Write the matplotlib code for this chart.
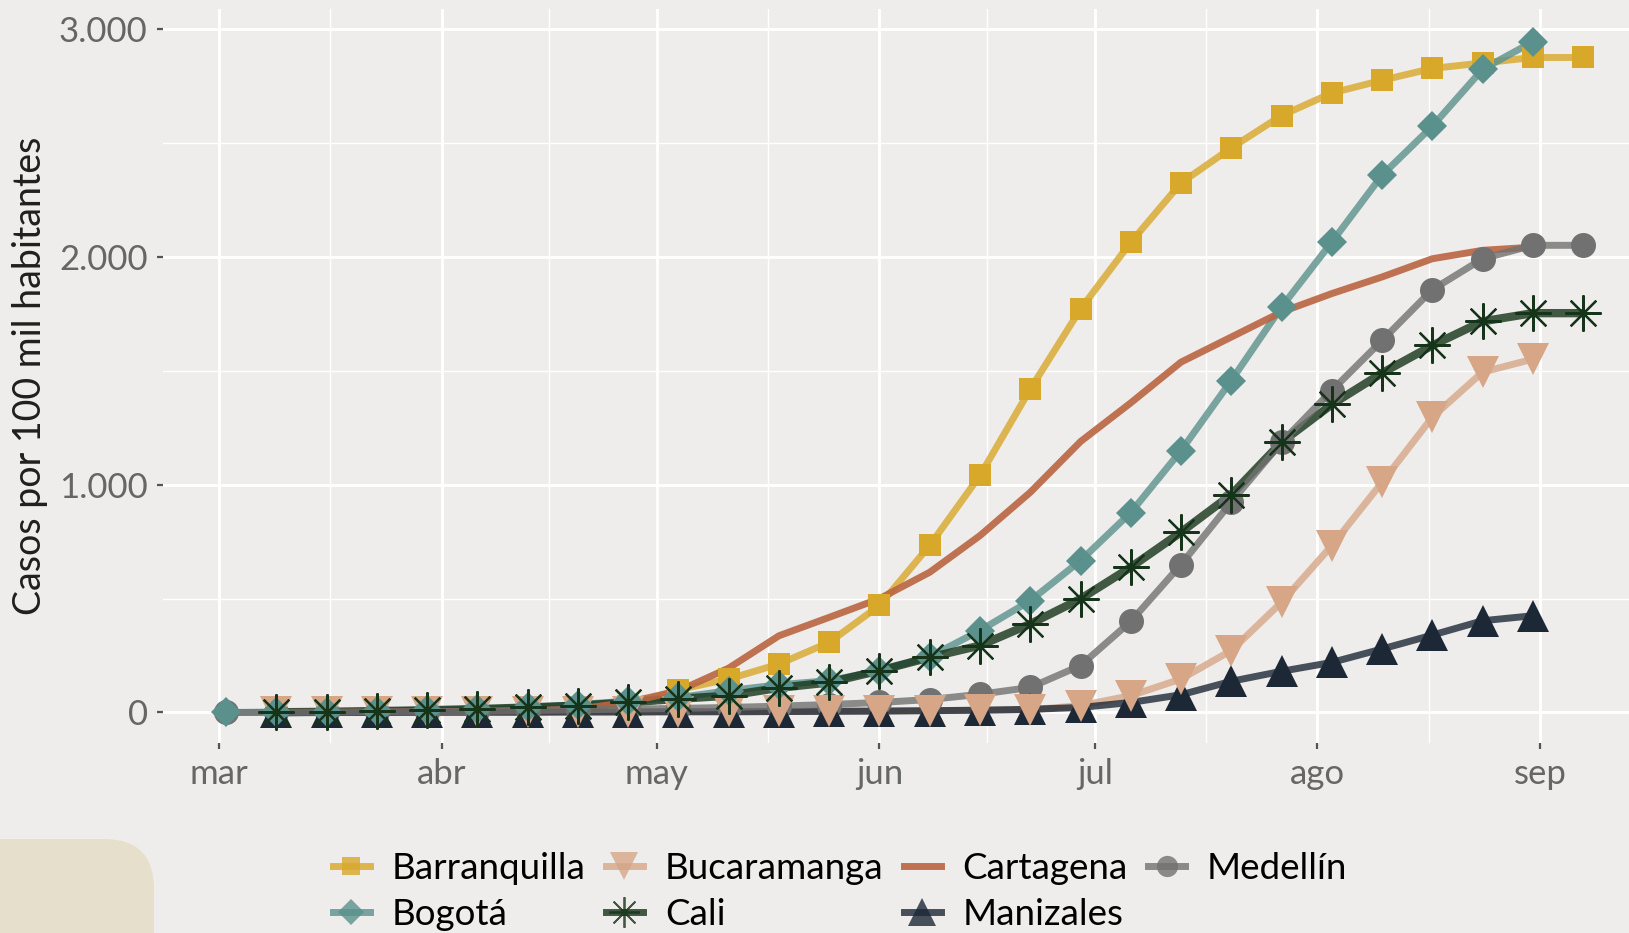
"""
Casos acumulados por 100 mil habitantes en ciudades de Colombia (mar-sep 2020).
"""

import matplotlib
matplotlib.use("Agg")

import matplotlib.dates as mdates
import matplotlib.pyplot as plt
from matplotlib.font_manager import FontProperties
from matplotlib.lines import Line2D
from matplotlib.patches import FancyBboxPatch
import pandas as pd

FONT = "Lato"
BG = "#EEEDEB"

# weekly dates (Mondays)
dates = pd.to_datetime([
    "2020-03-02", "2020-03-09", "2020-03-16", "2020-03-23", "2020-03-30",
    "2020-04-06", "2020-04-13", "2020-04-20", "2020-04-27", "2020-05-04",
    "2020-05-11", "2020-05-18", "2020-05-25", "2020-06-01", "2020-06-08",
    "2020-06-15", "2020-06-22", "2020-06-29", "2020-07-06", "2020-07-13",
    "2020-07-20", "2020-07-27", "2020-08-03", "2020-08-10", "2020-08-17",
    "2020-08-24", "2020-08-31", "2020-09-07",
])

# values per city; first index into `dates` given by *_start
barranquilla_start = 1
barranquilla = [0, 1, 3, 6, 10, 14, 20, 30, 100, 147, 213, 308, 470, 734, 1041,
                1420, 1772, 2065, 2326, 2480, 2622, 2721, 2777, 2829, 2853, 2877, 2877]
bogota_start = 0
bogota = [0, 2, 4, 7, 10, 15, 22, 35, 50, 66, 96, 122, 140, 184, 245, 360, 491,
          667, 878, 1150, 1458, 1781, 2066, 2360, 2575, 2825, 2946]
bucaramanga_start = 1
bucaramanga = [0, 0, 1, 1, 2, 2, 3, 3, 4, 5, 5, 6, 7, 8, 10, 12, 30, 74, 147, 272,
               484, 733, 1011, 1297, 1495, 1552]
cali_start = 1
cali = [1, 3, 6, 10, 15, 22, 30, 44, 60, 74, 108, 132, 184, 242, 294, 389, 499,
        638, 792, 957, 1187, 1353, 1491, 1612, 1718, 1754, 1754]
cartagena_start = 1
cartagena = [0, 1, 2, 3, 5, 8, 15, 45, 95, 195, 337, 418, 500, 616, 777, 967, 1190,
             1360, 1539, 1649, 1759, 1840, 1913, 1993, 2030, 2044]
manizales_start = 1
manizales = [0, 0, 0, 1, 1, 1, 2, 2, 3, 3, 4, 5, 6, 8, 10, 14, 22, 44, 78, 137,
             181, 220, 279, 340, 403, 425]
medellin_start = 0
medellin = [0, 0, 1, 2, 3, 5, 8, 12, 15, 18, 22, 28, 35, 44, 57, 80, 110, 206,
            400, 650, 924, 1187, 1414, 1634, 1857, 1993, 2052, 2052]

month_ticks = pd.to_datetime(["2020-03-01", "2020-04-01", "2020-05-01", "2020-06-01",
                              "2020-07-01", "2020-08-01", "2020-09-01"])
month_labels = ["mar", "abr", "may", "jun", "jul", "ago", "sep"]
y_ticks = [0, 1000, 2000, 3000]
y_labels = ["0", "1.000", "2.000", "3.000"]

ASTERISK = (8, 2, 0)

# name, values, start, color, marker, markersize, zorder, line width
series = [
    ("Barranquilla", barranquilla, barranquilla_start, "#D8A82A", "s", 16, 3.0, 5),
    ("Bogotá", bogota, bogota_start, "#5B918C", "D", 15, 3.4, 5),
    ("Bucaramanga", bucaramanga, bucaramanga_start, "#D6A687", "v", 23, 3.3, 5),
    ("Cali", cali, cali_start, "#163419", ASTERISK, 26, 3.5, 6),
    ("Cartagena", cartagena, cartagena_start, "#BA6540", None, 0, 2.9, 5),
    ("Manizales", manizales, manizales_start, "#1C2836", "^", 23, 3.2, 5),
    ("Medellín", medellin, medellin_start, "#717171", "o", 18, 3.1, 5),
]


def main() -> None:
    fig = plt.figure(figsize=(16.29, 9.33), dpi=100, facecolor=BG)
    ax = fig.add_axes([163 / 1629, 1 - 743 / 933, 1 - 163 / 1629, (743 - 9) / 933])
    ax.set_facecolor(BG)

    handles = []
    for name, vals, start, color, marker, ms, z, lw in series:
        x = dates[start:start + len(vals)]
        alpha = 0.9 if marker is None else 0.8
        ax.plot(x, vals, color=color, lw=lw, alpha=alpha, solid_capstyle="butt", zorder=2)
        if marker is not None:
            mew = 1.6 if marker == ASTERISK else 0
            ax.plot(x, vals, ls="none", marker=marker, ms=ms, color=color,
                    mec=color, mew=mew, zorder=z)
        handles.append(Line2D([], [], color=color, lw=5, alpha=alpha,
                              marker=marker, ms=ms * 0.85, mec=color,
                              mew=1.3 if marker == ASTERISK else 0,
                              markerfacecolor=color))

    # axes ranges
    x0 = mdates.date2num(pd.Timestamp("2020-03-01")) - 7.8
    x1 = mdates.date2num(pd.Timestamp("2020-03-01")) + 196.4
    ax.set_xlim(x0, x1)
    ax.set_ylim(-134, 3090)

    ax.set_xticks(month_ticks)
    ax.set_xticklabels(month_labels)
    mt = mdates.date2num(month_ticks)
    ax.set_xticks([(a + b) / 2 for a, b in zip(mt[:-1], mt[1:])], minor=True)
    ax.set_yticks(y_ticks)
    ax.set_yticklabels(y_labels)
    ax.set_yticks([500, 1500, 2500], minor=True)

    ax.grid(which="major", color="white", lw=2.0, zorder=0)
    ax.grid(which="minor", color="white", lw=1.0, zorder=0)
    ax.set_axisbelow(True)
    for s in ax.spines.values():
        s.set_visible(False)

    ax.tick_params(which="major", length=4, width=1.6, color="#555555",
                   labelcolor="#666666", labelsize=25, pad=7)
    ax.tick_params(which="minor", length=0)
    for lab in ax.get_xticklabels() + ax.get_yticklabels():
        lab.set_fontfamily(FONT)

    ax.set_ylabel("Casos por 100 mil habitantes", fontsize=27, family=FONT,
                  color="#1f1f1f", labelpad=8)

    fig.legend(handles, [s[0] for s in series], ncol=4, loc="upper left",
               bbox_to_anchor=(333 / 1629, 1 - 852 / 933), frameon=False,
               borderpad=0, borderaxespad=0, handlelength=1.0,
               handletextpad=0.6, columnspacing=0.55, labelspacing=0.35,
               prop=FontProperties(family=FONT, size=26.5))

    # decorative box bottom-left
    box = FancyBboxPatch((-1.0, -1.0), 2.54, 1.94,
                         boxstyle="round,pad=0,rounding_size=0.5",
                         transform=fig.dpi_scale_trans, facecolor="#E6DFCB",
                         edgecolor="none", zorder=0)
    fig.patches.append(box)

    fig.savefig("out.png", dpi=100, facecolor=BG)
    plt.close(fig)


if __name__ == "__main__":
    main()
